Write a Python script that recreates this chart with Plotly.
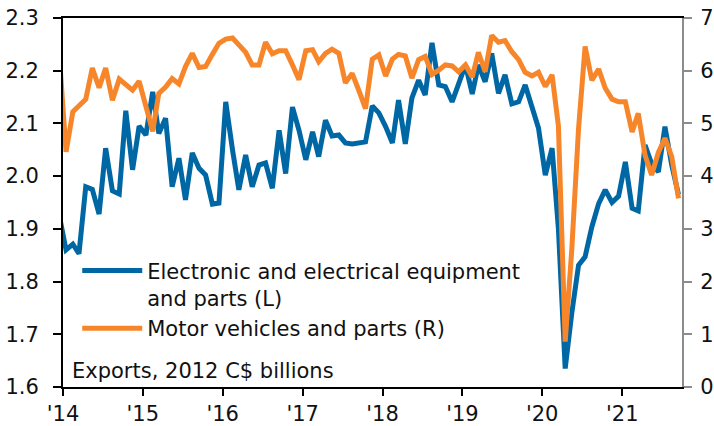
import pandas as pd
import plotly.graph_objects as go

# Monthly data, Dec 2013 .. Sep 2021 (Dec 2013 lies just left of the axis and is clipped)
months = pd.date_range("2013-12-01", "2021-09-01", freq="MS") + pd.Timedelta(days=14)

electronics = [
    1.925,
    1.860, 1.871, 1.853, 1.980, 1.975, 1.928, 2.053, 1.972, 1.966, 2.124, 2.012, 2.095,
    2.078, 2.160, 2.081, 2.110, 1.980, 2.034, 1.955, 2.044, 2.015, 2.002, 1.947, 1.949,
    2.141, 2.050, 1.974, 2.040, 1.980, 2.021, 2.025, 1.977, 2.087, 2.005, 2.131, 2.087,
    2.031, 2.084, 2.037, 2.106, 2.076, 2.078, 2.063, 2.061, 2.063, 2.065, 2.133, 2.120,
    2.094, 2.063, 2.144, 2.061, 2.148, 2.182, 2.154, 2.253, 2.173, 2.170, 2.141, 2.176,
    2.211, 2.156, 2.211, 2.179, 2.233, 2.157, 2.192, 2.137, 2.141, 2.173, 2.130, 2.091,
    2.002, 2.053, 1.900, 1.635, 1.740, 1.831, 1.847, 1.904, 1.948, 1.974, 1.950, 1.962,
    2.027, 1.939, 1.934, 2.059, 2.024, 2.008, 2.094, 2.021, 1.965,
]

motor_vehicles = [
    6.30,
    4.46, 5.22, 5.33, 5.46, 6.05, 5.68, 6.05, 5.44, 5.84, 5.73, 5.63, 5.80,
    5.35, 4.85, 5.57, 5.69, 5.85, 5.75, 6.08, 6.33, 6.06, 6.08, 6.31, 6.52,
    6.60, 6.62, 6.49, 6.35, 6.11, 6.11, 6.54, 6.32, 6.38, 6.38, 6.11, 5.83,
    6.38, 6.40, 6.17, 6.33, 6.41, 6.33, 5.77, 5.95, 5.62, 5.28, 6.22, 6.30,
    5.90, 6.22, 6.31, 6.28, 5.86, 6.21, 6.27, 5.93, 6.01, 6.11, 6.09, 5.98,
    6.11, 5.88, 6.35, 5.98, 6.67, 6.54, 6.57, 6.36, 6.21, 5.97, 5.90, 5.97,
    5.70, 5.92, 4.95, 0.86, 2.60, 4.90, 6.46, 5.82, 6.03, 5.67, 5.46, 5.41,
    5.41, 4.84, 5.19, 4.40, 4.02, 4.45, 4.72, 4.37, 3.58,
]

year_ticks = [f"{y}-01-01" for y in range(2014, 2022)]
year_labels = ["'14", "'15", "'16", "'17", "'18", "'19", "'20", "'21"]

left_ticks = [1.6, 1.7, 1.8, 1.9, 2.0, 2.1, 2.2, 2.3]
right_ticks = [0, 1, 2, 3, 4, 5, 6, 7]

BLUE = "#0067a5"
ORANGE = "#f7862a"
FONT = "DejaVu Sans, Verdana, sans-serif"

fig = go.Figure()
fig.add_trace(go.Scatter(
    x=months, y=electronics, mode="lines",
    name="Electronic and electrical equipment<br>and parts (L)",
    line=dict(color=BLUE, width=5), yaxis="y",
))
fig.add_trace(go.Scatter(
    x=months, y=motor_vehicles, mode="lines",
    name="Motor vehicles and parts (R)",
    line=dict(color=ORANGE, width=5), yaxis="y2",
))

fig.update_layout(
    width=714, height=426,
    margin=dict(l=63, r=32, t=18, b=39, autoexpand=False),
    paper_bgcolor="white", plot_bgcolor="white",
    font=dict(family=FONT, size=21, color="#111111"),
    showlegend=True,
    legend=dict(
        x=0.023, y=0.37, xanchor="left", yanchor="top",
        bgcolor="rgba(0,0,0,0)", font=dict(size=21, family=FONT),
        itemwidth=60, valign="top", tracegroupgap=13,
    ),
    xaxis=dict(
        type="date", range=["2014-01-01", "2021-10-01"],
        tickvals=year_ticks, ticktext=year_labels,
        showgrid=False, zeroline=False, automargin=False,
        showline=True, linecolor="black", linewidth=2, mirror=True,
        ticks="outside", ticklen=7, tickwidth=2, tickcolor="black",
        ticklabelstandoff=0,
    ),
    yaxis=dict(
        range=[1.6, 2.3], tickvals=left_ticks, tickformat=".1f",
        showgrid=False, zeroline=False, automargin=False,
        showline=True, linecolor="black", linewidth=2,
        ticks="outside", ticklen=8, tickwidth=2, tickcolor="black",
        ticklabelstandoff=10,
    ),
    yaxis2=dict(
        range=[0, 7], tickvals=right_ticks, overlaying="y", side="right",
        showgrid=False, zeroline=False, automargin=False,
        showline=True, linecolor="#8c8c8c", linewidth=2,
        ticks="outside", ticklen=8, tickwidth=2, tickcolor="#8c8c8c",
        ticklabelstandoff=4,
    ),
    annotations=[dict(
        text="Exports, 2012 C$ billions", xref="paper", yref="paper",
        x=0.012, y=0.005, xanchor="left", yanchor="bottom", showarrow=False,
        font=dict(size=21, family=FONT, color="#111111"),
    )],
)

fig.write_html(
    "out.html",
    config={"displayModeBar": False},
    post_script="document.body.style.margin='0px';document.body.style.overflow='hidden';",
)
